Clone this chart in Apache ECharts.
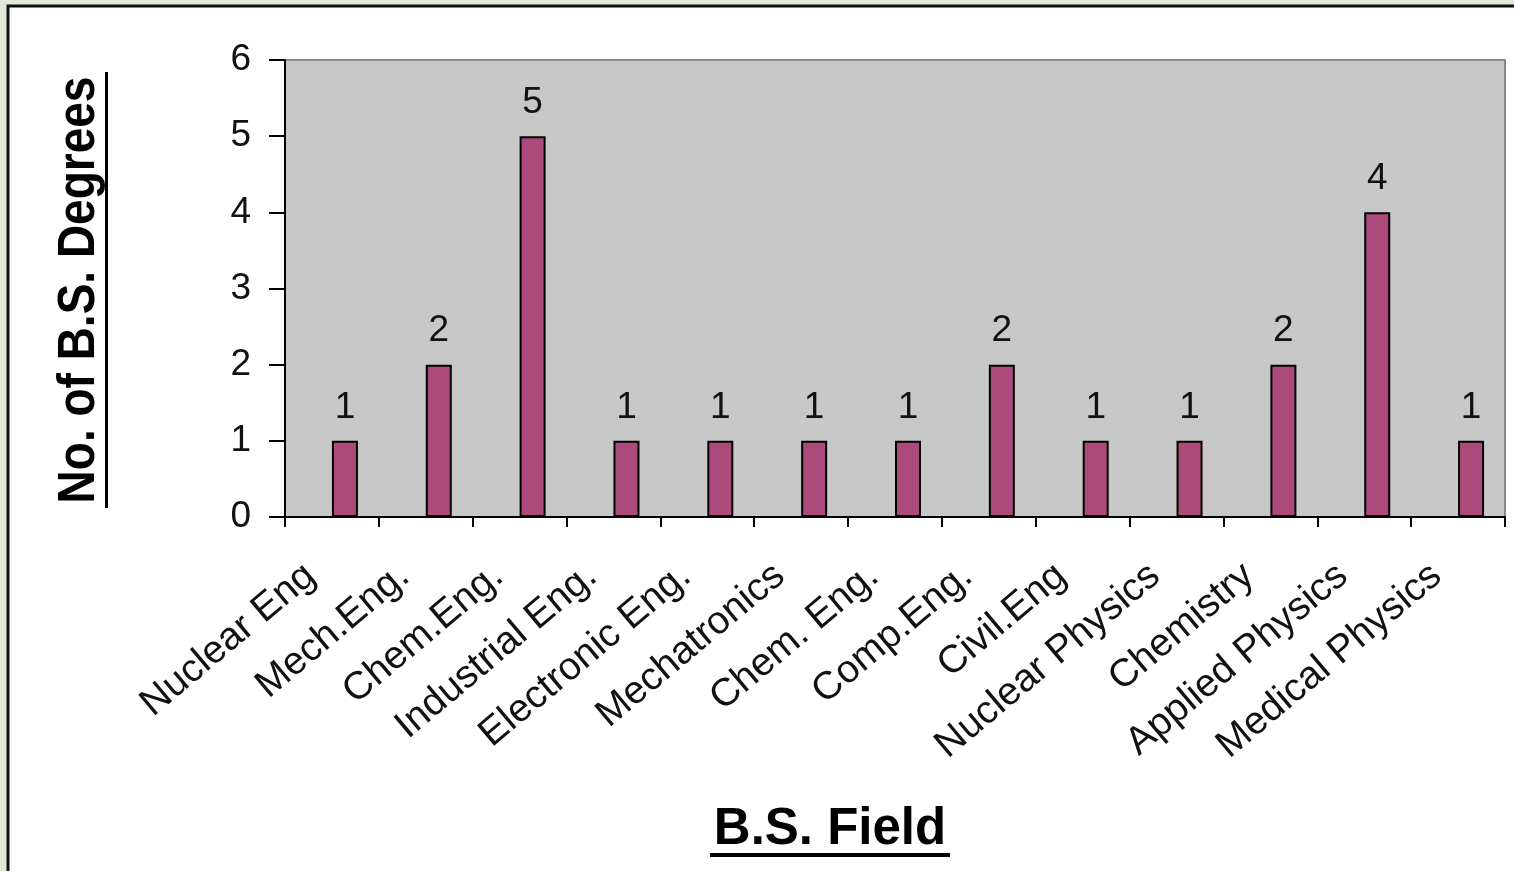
<!DOCTYPE html>
<html>
<head>
<meta charset="utf-8">
<style>
  html, body { margin: 0; padding: 0; background: #e2ebd9; }
  #chart { width: 1514px; height: 871px; }
</style>
<script src="https://cdn.jsdelivr.net/npm/echarts@6/dist/echarts.min.js"></script>
</head>
<body>
<div id="chart"></div>
<script>
// Fields of the bachelor degrees and how many of each
const fields = [
  'Nuclear Eng', 'Mech.Eng.', 'Chem.Eng.', 'Industrial Eng.', 'Electronic Eng.',
  'Mechatronics', 'Chem. Eng.', 'Comp.Eng.', 'Civil.Eng', 'Nuclear Physics',
  'Chemistry', 'Applied Physics', 'Medical Physics'
];
const degrees = [1, 2, 5, 1, 1, 1, 1, 2, 1, 1, 2, 4, 1];
const yTicks = [0, 1, 2, 3, 4, 5, 6];

const xTitle = 'B.S. Field';
const yTitle = 'No. of B.S. Degrees';

const chart = echarts.init(document.getElementById('chart'));
const font = '"Liberation Sans", Arial, sans-serif';

chart.setOption({
  animation: false,
  backgroundColor: 'transparent',
  graphic: [
    // framed white panel
    { type: 'rect', z: -10, shape: { x: 8, y: 6, width: 1530, height: 900 },
      style: { fill: '#ffffff', stroke: '#111111', lineWidth: 3 } },
    // y title, rotated, underlined
    { type: 'group', x: 80, y: 290, rotation: Math.PI / 2, children: [
      { type: 'text', x: 0, y: 0, scaleX: 1.0, scaleY: 1.12,
        style: { text: yTitle, font: 'bold 46px ' + font, fill: '#000',
                 align: 'center', verticalAlign: 'middle' } },
      { type: 'rect', shape: { x: -218, y: 25, width: 436, height: 3 },
        style: { fill: '#000' } }
    ] },
    // x title, underlined
    { type: 'group', x: 830, y: 830, children: [
      { type: 'text', x: 0, y: 0,
        style: { text: xTitle, font: 'bold 51px ' + font, fill: '#000',
                 align: 'center', verticalAlign: 'middle' } },
      { type: 'rect', shape: { x: -120, y: 23, width: 240, height: 4 },
        style: { fill: '#000' } }
    ] }
  ],
  grid: {
    left: 285, right: 9, top: 60, bottom: 354,
    show: true, backgroundColor: '#c8c8c8', borderColor: '#8a8a8a', borderWidth: 2
  },
  xAxis: {
    type: 'category',
    data: fields,
    boundaryGap: true,
    axisLine: { lineStyle: { color: '#000', width: 2 } },
    axisTick: { show: true, length: 10, lineStyle: { color: '#000', width: 2 } },
    axisLabel: {
      interval: 0, rotate: 40, margin: 36, padding: [0, 28, 0, 0],
      fontFamily: font, fontSize: 39, color: '#111'
    }
  },
  yAxis: {
    type: 'value',
    min: yTicks[0], max: yTicks[yTicks.length - 1], interval: 1,
    splitLine: { show: false },
    axisLine: { show: true, lineStyle: { color: '#000', width: 2 } },
    axisTick: { show: true, length: 16, lineStyle: { color: '#000', width: 2 } },
    axisLabel: { fontFamily: font, fontSize: 37, color: '#111', margin: 34 }
  },
  series: [
    // empty companion series keeps the bars right of the category centre
    { type: 'bar', data: [], barWidth: 26, barGap: '0%' },
    {
      type: 'bar',
      data: degrees,
      barWidth: 26,
      barGap: '0%',
      itemStyle: { color: '#ab4a7b', borderColor: '#000', borderWidth: 2 },
      label: {
        show: true, position: 'top', distance: 15,
        fontFamily: font, fontSize: 37, color: '#111'
      }
    }
  ]
});
</script>
</body>
</html>
